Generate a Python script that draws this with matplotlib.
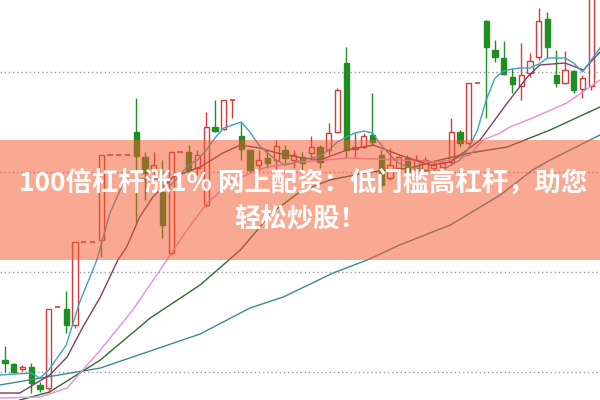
import matplotlib
matplotlib.use('Agg')
import matplotlib.pyplot as plt

# candles (open, high, low, close), one row per trading day
opens = [4.0, 3.6, 3.1, 3.3, 1.5, 1.2, 9.3, 9.1, 7.5, 15.8, 15.8, 16.0, 24.5, 24.5, 24.5,
         26.8, 24.3, 23.0, 20.8, 14.7, 24.8, 24.8, 23.2, 19.5, 27.3, 27.1, 29.9, 26.4, 25.0,
         23.5, 24.2, 24.0, 25.0, 24.0, 24.3, 24.7, 25.3, 25.0, 26.8, 33.7, 25.1, 25.3, 26.5,
         24.5, 22.2, 23.2, 24.2, 23.0, 23.0, 23.2, 23.3, 23.8, 26.8, 25.7, 31.7, 37.9, 35.0,
         34.2, 32.3, 31.4, 32.7, 34.3, 38.1, 32.5, 31.7, 32.9, 31.1, 31.4]
highs = [5.4, 3.7, 3.5, 3.7, 1.8, 9.1, 9.3, 10.9, 15.8, 15.8, 15.8, 24.5, 24.5, 24.5, 24.5,
         30.2, 24.8, 24.8, 24.0, 24.8, 24.8, 25.5, 25.0, 28.8, 30.0, 30.0, 30.0, 27.8, 25.0,
         25.0, 25.0, 26.0, 25.5, 25.0, 24.8, 26.4, 25.5, 27.7, 31.2, 35.3, 26.7, 26.7, 30.7,
         25.0, 25.2, 24.5, 24.5, 24.5, 24.3, 24.0, 24.0, 28.2, 27.0, 31.7, 31.7, 38.0, 36.0,
         35.9, 33.2, 35.7, 34.7, 39.2, 38.8, 35.0, 34.9, 33.0, 32.5, 42.0]
lows = [2.8, 2.7, 2.9, 0.7, 0.8, 0.7, 9.3, 6.7, 7.2, 15.8, 15.8, 14.3, 24.5, 24.5, 24.5,
        17.7, 20.0, 22.2, 16.2, 14.5, 24.8, 22.8, 22.5, 19.3, 26.8, 27.0, 28.2, 24.0, 22.7,
        23.0, 23.2, 23.0, 23.5, 23.2, 23.0, 24.0, 23.2, 24.5, 26.7, 24.2, 24.3, 25.2, 25.5,
        21.2, 22.0, 22.0, 22.5, 22.0, 22.8, 22.8, 23.0, 23.5, 25.3, 25.5, 31.7, 28.2, 33.8,
        32.5, 30.7, 30.0, 32.3, 34.0, 34.2, 31.3, 31.6, 30.7, 30.2, 31.0]
closes = [3.7, 2.8, 3.3, 1.7, 1.1, 9.1, 9.3, 7.5, 15.8, 15.8, 15.8, 24.5, 24.5, 24.5, 24.5,
          24.4, 22.7, 23.5, 17.5, 24.8, 24.8, 23.0, 24.5, 27.3, 26.9, 30.0, 30.0, 25.1, 23.0,
          24.0, 23.7, 25.4, 24.2, 24.5, 23.7, 25.3, 23.8, 26.7, 31.0, 25.0, 25.3, 26.4, 25.8,
          21.5, 23.5, 24.3, 22.8, 24.0, 24.0, 23.5, 23.7, 26.8, 25.7, 31.7, 31.7, 35.3, 34.3,
          32.6, 31.6, 32.5, 33.9, 37.9, 35.3, 31.7, 33.0, 31.0, 32.2, 41.0]

# moving average lines (x in candle positions)
ma5_x = [-0.6, 3, 4, 5, 7, 8.5, 10.5, 12, 13.5, 15, 16.5, 18, 19, 20, 21, 22, 23, 24, 25, 26,
         27, 28, 29, 30, 31, 32, 33, 34, 35, 36, 37, 38, 39, 40, 41, 42, 43, 44, 45, 46, 47,
         48, 49, 50, 51, 52, 53, 54, 55, 56, 57, 58, 59, 60, 61, 62, 63, 64, 65, 66, 67, 68]
ma5_y = [2.5, 2.7, 2.2, 3.0, 5.5, 9.7, 14.0, 18.7, 21.7, 22.0, 22.2, 22.0, 21.5, 22.5, 23.5,
         24.0, 25.0, 26.2, 27.2, 27.5, 27.8, 26.8, 25.5, 24.7, 24.0, 23.5, 23.7, 24.0, 24.2,
         24.4, 25.0, 25.8, 26.3, 26.7, 26.9, 26.7, 25.5, 24.5, 23.7, 23.3, 23.2, 23.0, 22.8,
         23.0, 23.5, 24.0, 25.2, 27.0, 30.0, 32.2, 32.9, 33.1, 33.2, 33.2, 33.6, 34.2, 34.2,
         34.2, 33.7, 32.8, 34.0, 35.2]
ma10_x = [-0.6, 1.7, 5.1, 7.1, 8.9, 10.9, 12.9, 13.9, 15.4, 16.9, 19.2, 22.3, 24.9, 26.9,
          29.1, 31.1, 33.4, 36.0, 39.1, 42.1, 45.1, 48.6, 50.9, 52.8, 54.3, 57.4, 59.7, 61.1,
          64.0, 66.1, 68.0]
ma10_y = [0.7, 0.7, 2.5, 4.3, 7.3, 10.3, 14.0, 15.3, 18.3, 20.3, 22.3, 23.3, 24.7, 25.5,
          25.2, 24.7, 24.3, 24.0, 25.0, 25.5, 24.5, 23.5, 23.8, 25.0, 26.0, 29.7, 32.3, 33.5,
          33.7, 33.0, 34.8]
ma20_x = [-0.6, 4.0, 7.1, 10.9, 14.6, 18.5, 20.8, 23.1, 26.1, 29.9, 33.7, 39.4, 45.1, 49.7,
          53.1, 54.6, 56.6, 57.7, 60.3, 64.2, 68.0]
ma20_y = [0.2, 0.3, 1.2, 5.0, 9.0, 14.0, 17.0, 19.7, 22.0, 23.3, 23.8, 24.2, 24.0, 23.8,
          24.5, 26.0, 26.7, 27.3, 28.2, 29.7, 32.0]
ma30_x = [1.7, 5.1, 10.9, 16.6, 22.3, 26.9, 30.6, 33.7, 37.1, 41.7, 46.3, 49.7, 53.1, 57.4,
          62.3, 68.0]
ma30_y = [0.0, 0.8, 4.0, 8.2, 11.5, 15.0, 18.8, 20.8, 22.0, 22.8, 23.2, 24.0, 24.7, 25.3,
          27.0, 29.3]
ma60_x = [-0.6, 10.9, 22.3, 28.0, 31.8, 37.5, 41.4, 45.1, 50.9, 56.6, 60.3, 62.3, 68.0]
ma60_y = [1.5, 3.2, 6.6, 9.2, 10.3, 12.7, 14.0, 15.5, 17.5, 20.5, 23.0, 24.0, 26.5]

grid_levels = [2.8, 12.8, 22.8, 32.8]

banner_lines = ['100倍杠杆涨1% 网上配资：低门槛高杠杆，助您', '轻松炒股！']

RED = '#d23c3c'
GREEN = '#1f8f24'


def drawCandles(ax):
    width = 0.62
    for i in range(len(opens)):
        o, h, l, c = opens[i], highs[i], lows[i], closes[i]
        if h == l:
            # one-price day drawn as a short dash
            ax.hlines(c, i - width / 2, i + width / 2, color=RED, lw=1.2, zorder=4)
            continue
        color = RED if c >= o else GREEN
        ax.vlines(i, l, h, color=color, lw=1.0, zorder=3)
        face = 'white' if c >= o else GREEN
        body = abs(c - o)
        if body < 0.15:
            ax.hlines(c, i - width / 2, i + width / 2, color=color, lw=1.2, zorder=4)
        else:
            ax.bar(i, body, bottom=min(o, c), width=width, facecolor=face,
                   edgecolor=color, linewidth=1.0, zorder=4)


fig = plt.figure(figsize=(6, 4), dpi=100)
ax = fig.add_axes([0, 0, 1, 1])
ax.set_xlim(-0.57, 68.0)
ax.set_ylim(0, 40)
ax.axis('off')

for g in grid_levels:
    ax.axhline(g, color='#9a9a9a', lw=1.0, linestyle=(0, (1, 2)), zorder=1)

drawCandles(ax)

ax.plot(ma60_x, ma60_y, color='#3a8c94', lw=1.0, zorder=5)
ax.plot(ma30_x, ma30_y, color='#2f6b35', lw=1.0, zorder=5)
ax.plot(ma20_x, ma20_y, color='#e78fd6', lw=1.0, zorder=5)
ax.plot(ma10_x, ma10_y, color='#7e3d68', lw=1.0, zorder=5)
ax.plot(ma5_x, ma5_y, color='#3fa3bd', lw=1.0, zorder=5)

# semi-transparent banner with the title
ax.axhspan(14.0, 26.0, color='#f4582c', alpha=0.52, lw=0, zorder=10)
fonts = ['Noto Sans CJK SC', 'DejaVu Sans']
fig.text(0.505, 0.5425, banner_lines[0], ha='center', va='center', color='white',
         fontsize=19, fontweight='bold', family=fonts, zorder=11)
fig.text(0.5, 0.45, banner_lines[1], ha='center', va='center', color='white',
         fontsize=19, fontweight='bold', family=fonts, zorder=11)

fig.savefig('out.png', dpi=100)
